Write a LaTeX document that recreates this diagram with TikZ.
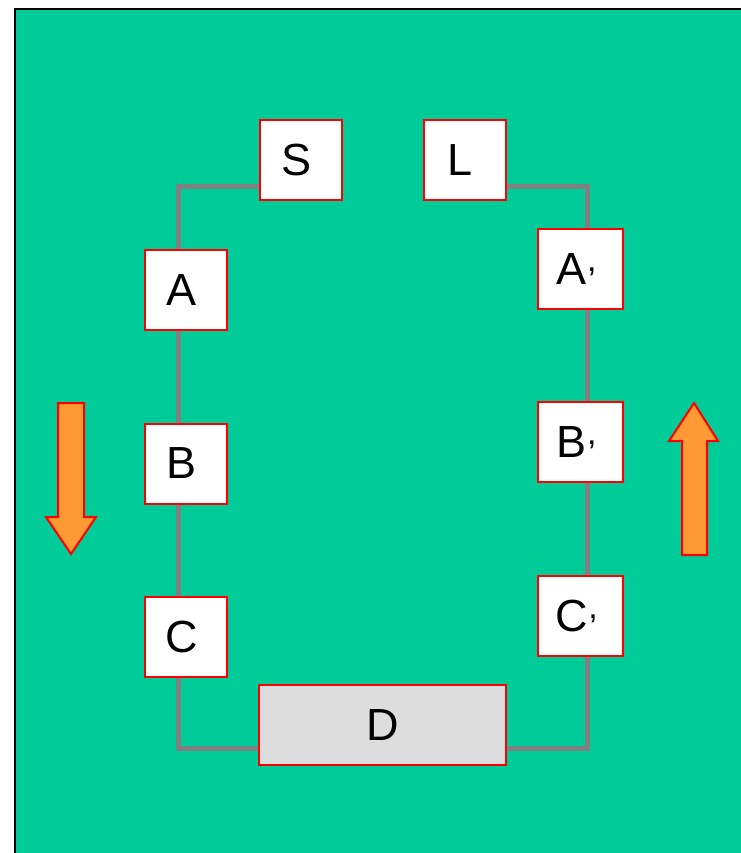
\documentclass[tikz,border=0pt]{standalone}
\usepackage{fontspec}
\setmainfont{Liberation Sans}
\definecolor{bggreen}{HTML}{00CC99}
\definecolor{arroworange}{HTML}{FF9933}
\definecolor{wiregray}{HTML}{808080}
\definecolor{dgray}{HTML}{DDDDDD}
\pgfdeclarelayer{bglayer}
\pgfdeclarelayer{wirelayer}
\pgfsetlayers{bglayer,wirelayer,main}
\begin{document}
\begin{tikzpicture}[x=1pt,y=-1pt,
  box/.style={draw=red, fill=white, line width=2pt, minimum width=82pt, minimum height=80pt, inner sep=0pt, font=\fontsize{45}{45}\selectfont},
  wire/.style={draw=wiregray, line width=5pt},
  bigarrow/.style={draw=red, fill=arroworange, line width=2pt, line join=miter}
]
\useasboundingbox (0,0) rectangle (740,853);
\clip (0,0) rectangle (740,853);
\begin{pgfonlayer}{bglayer}
\fill[white] (0,0) rectangle (740,853);
\draw[fill=bggreen, draw=black, line width=2pt] (15,9) rectangle (760,880);
\end{pgfonlayer}

\coordinate (tl) at (178,186);
\coordinate (tr) at (587,186);
\coordinate (bl) at (178,748);
\coordinate (br) at (587,748);

\newcommand{\primec}{\kern0.5pt\raisebox{13pt}{\fontsize{34}{34}\selectfont,}}

\node[box] (S) at (300.5,160) {S\kern8pt};
\node[box] (L) at (464.5,160) {L\kern8pt};
\node[box] (A) at (186,290) {A\kern8pt};
\node[box] (B) at (186,463.5) {B\kern8pt};
\node[box] (C) at (186,637) {C\kern8pt};
\node[box, minimum width=85pt] (A2) at (580.5,269) {A\primec\kern8pt};
\node[box, minimum width=85pt] (B2) at (580.5,442) {B\primec\kern8pt};
\node[box, minimum width=85pt] (C2) at (580.5,616) {C\primec\kern8pt};
\node[box, fill=dgray, minimum width=247pt] (D) at (382.5,725) {D};

\begin{pgfonlayer}{wirelayer}
\draw[wire] (S.west |- tl) -- (tl) -- (tl |- A.north);
\draw[wire] (tl |- A.south) -- (tl |- B.north);
\draw[wire] (tl |- B.south) -- (tl |- C.north);
\draw[wire] (tl |- C.south) -- (bl) -- (D.west |- bl);
\draw[wire] (L.east |- tr) -- (tr) -- (tr |- A2.north);
\draw[wire] (tr |- A2.south) -- (tr |- B2.north);
\draw[wire] (tr |- B2.south) -- (tr |- C2.north);
\draw[wire] (tr |- C2.south) -- (br) -- (D.east |- br);
\end{pgfonlayer}

\draw[bigarrow] (58,403) -- (84,403) -- (84,517) -- (96,517) -- (71,554) -- (46,517) -- (58,517) -- cycle;
\draw[bigarrow] (682,555) -- (707,555) -- (707,441) -- (718,441) -- (694,403) -- (669,441) -- (682,441) -- cycle;
\end{tikzpicture}
\end{document}
